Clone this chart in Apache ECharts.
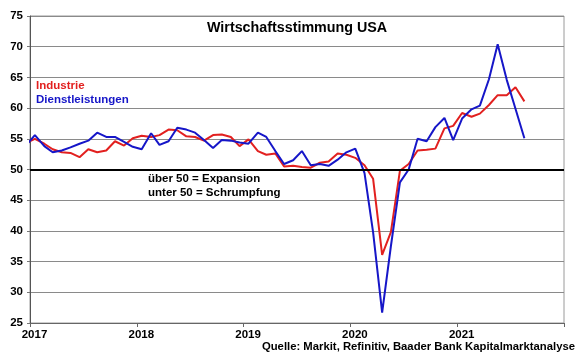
<!DOCTYPE html>
<html>
<head>
<meta charset="utf-8">
<script src="https://cdn.jsdelivr.net/npm/echarts@6/dist/echarts.min.js"></script>
<style>
html,body{margin:0;padding:0;background:#fff;}
#chart{width:580px;height:359px;}
</style>
</head>
<body>
<div id="chart"></div>
<script>
// Monthly PMI readings, Dec 2016 .. Aug 2021
const firstMonth = '2016-12';
const industrie = [
  54.3,
  55.0, 54.2, 53.3, 52.8, 52.7, 52.0, 53.3, 52.8, 53.1, 54.6, 53.9, 55.1,
  55.5, 55.3, 55.6, 56.5, 56.4, 55.4, 55.3, 54.7, 55.6, 55.7, 55.3, 53.8,
  54.9, 53.0, 52.4, 52.6, 50.5, 50.6, 50.4, 50.3, 51.1, 51.3, 52.6, 52.4,
  51.9, 50.7, 48.5, 36.1, 39.8, 49.8, 50.9, 53.1, 53.2, 53.4, 56.7, 57.1,
  59.2, 58.6, 59.1, 60.5, 62.1, 62.1, 63.4, 61.1
];
const dienstleistungen = [
  53.9,
  55.6, 53.8, 52.8, 53.1, 53.6, 54.2, 54.7, 56.0, 55.3, 55.3, 54.5, 53.7,
  53.3, 55.9, 54.0, 54.6, 56.8, 56.5, 56.0, 54.8, 53.5, 54.8, 54.7, 54.4,
  54.2, 56.0, 55.3, 53.0, 50.9, 51.5, 53.0, 50.7, 50.9, 50.6, 51.6, 52.8,
  53.4, 49.4, 39.8, 26.7, 37.5, 47.9, 50.0, 55.0, 54.6, 56.9, 58.4, 54.8,
  58.3, 59.8, 60.4, 64.7, 70.4, 64.6, 59.9, 55.1
];
const yearLabels = ['2017', '2018', '2019', '2020', '2021', ''];
const seriesNames = ['Industrie', 'Dienstleistungen'];
const titleText = 'Wirtschaftsstimmung USA';
const noteText = ['über 50 = Expansion', 'unter 50 = Schrumpfung'];
const sourceText = 'Quelle: Markit, Refinitiv, Baader Bank Kapitalmarktanalyse';

// Build month list from the first month
const months = [];
{
  let [y, m] = firstMonth.split('-').map(Number);
  for (let i = 0; i < industrie.length; i++) {
    months.push(y + '-' + String(m).padStart(2, '0'));
    m++; if (m > 12) { m = 1; y++; }
  }
}
// x in months since Jan 2017; readings plotted at day 18 of each month
const DAY = 18;
function monthPos(s) {
  const [y, m] = s.split('-').map(Number);
  const days = new Date(y, m, 0).getDate();
  return (y - 2017) * 12 + (m - 1) + (DAY - 1) / days;
}
const toPairs = vals => vals.map((v, i) => [monthPos(months[i]), v]);

const FONT = '"Liberation Sans", Arial, sans-serif';
const RED = '#e2201f';
const BLUE = '#1616c8';

const chart = echarts.init(document.getElementById('chart'), null, {renderer: 'canvas'});
chart.setOption({
  animation: false,
  backgroundColor: '#fff',
  title: {
    text: titleText,
    left: 207, top: 21, padding: 0,
    textStyle: {fontFamily: FONT, fontSize: 14.3, fontWeight: 'bold', color: '#000'}
  },
  legend: {
    orient: 'vertical',
    left: 31, top: 79, padding: 0,
    itemWidth: 0, itemHeight: 0, itemGap: 0,
    icon: 'none',
    selectedMode: false,
    textStyle: {fontFamily: FONT, fontSize: 11.5, fontWeight: 'bold', lineHeight: 14},
    data: [
      {name: seriesNames[0], textStyle: {color: RED}},
      {name: seriesNames[1], textStyle: {color: BLUE}}
    ]
  },
  grid: {
    left: 30, right: 16, top: 16, bottom: 36,
    show: true, borderColor: '#9a9a9a', borderWidth: 1
  },
  xAxis: {
    type: 'value',
    min: 0, max: 60, interval: 12,
    axisLine: {show: true, lineStyle: {color: '#666', width: 1}},
    axisTick: {show: true, length: 4, inside: false, lineStyle: {color: '#666'}},
    splitLine: {show: false},
    axisLabel: {
      margin: 6,
      padding: [0, 0, 0, 9],
      fontFamily: FONT, fontSize: 11.5, fontWeight: 'bold', color: '#000',
      formatter: v => yearLabels[Math.round(v / 12)] || ''
    }
  },
  yAxis: {
    type: 'value',
    min: 25, max: 75, interval: 5,
    axisLine: {show: true, lineStyle: {color: '#555', width: 1}},
    axisTick: {show: true, length: 3, inside: false, lineStyle: {color: '#777'}},
    splitLine: {show: true, lineStyle: {color: '#8a8a8a', width: 1}},
    axisLabel: {
      margin: 7,
      fontFamily: FONT, fontSize: 11.5, fontWeight: 'bold', color: '#000'
    }
  },
  graphic: [
    {
      type: 'text', left: 148, top: 172.5, silent: true,
      style: {
        text: noteText.join('\n'),
        font: 'bold 11.5px ' + FONT, fill: '#000', lineHeight: 13.5
      }
    },
    {
      type: 'text', right: 5, top: 341, silent: true,
      style: {
        text: sourceText,
        font: 'bold 11.3px ' + FONT, fill: '#000'
      }
    }
  ],
  series: [
    {
      name: seriesNames[0], type: 'line',
      data: toPairs(industrie),
      showSymbol: false, symbol: 'none',
      lineStyle: {color: RED, width: 2},
      itemStyle: {color: RED},
      clip: true,
      markLine: {
        silent: true, symbol: ['none', 'none'],
        label: {show: false},
        lineStyle: {color: '#000', width: 2, type: 'solid'},
        data: [{yAxis: 50}]
      },
      z: 2
    },
    {
      name: seriesNames[1], type: 'line',
      data: toPairs(dienstleistungen),
      showSymbol: false, symbol: 'none',
      lineStyle: {color: BLUE, width: 2},
      itemStyle: {color: BLUE},
      clip: true,
      z: 3
    }
  ]
});
</script>
</body>
</html>
